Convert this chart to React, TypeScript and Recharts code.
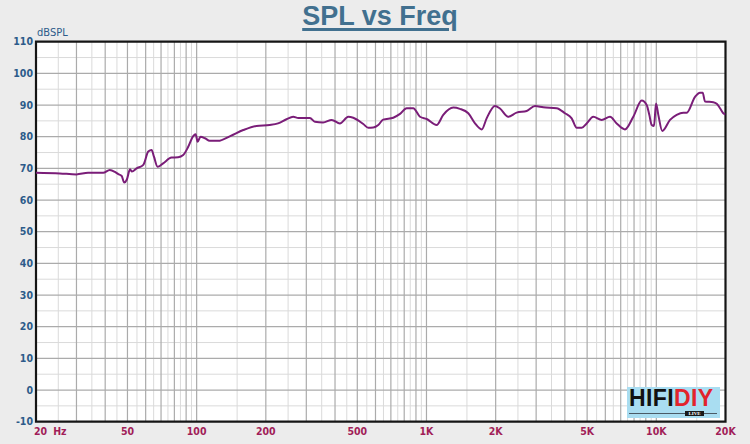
import React from "react";
import { LineChart, Line, XAxis, YAxis, CartesianGrid, ReferenceArea } from "recharts";

const freqs = [20, 25.4, 30, 33.7, 39.2, 41.9, 44.1, 45.6, 47.2, 48.4, 49.7, 51.3, 52.3, 54.8, 58.6, 61.6, 63.7, 65.2, 67.6, 71.5, 77.8, 83.1, 87.4, 91.9, 96.6, 99, 101, 104, 108.7, 114, 124, 140, 159.5, 182, 208, 226, 246, 263, 277, 311, 327, 355, 387, 420, 457, 480, 531, 558, 587, 617, 648, 717, 767, 820, 876, 937, 1002, 1107, 1183, 1308, 1398, 1520, 1626, 1739, 1827, 1986, 2088, 2268, 2468, 2729, 2966, 3222, 3686, 4006, 4283, 4504, 4734, 4977, 5318, 5784, 6287, 6722, 7306, 7941, 8638, 9081, 9321, 9550, 9772, 9970, 10203, 10617, 11470, 12264, 13107, 13558, 14738, 15489, 15916, 16286, 17702, 18316, 18929, 19562, 20000];

const spl = [68.6, 68.4, 68.1, 68.6, 68.6, 69.5, 68.9, 68.2, 67.6, 65.5, 66.5, 69.7, 69.0, 70.0, 71.1, 75.3, 75.8, 73.7, 70.5, 71.6, 73.4, 73.5, 74.2, 76.8, 80.2, 80.8, 78.4, 80.0, 79.5, 78.7, 78.7, 80.2, 82.1, 83.4, 83.7, 84.2, 85.5, 86.3, 85.9, 85.9, 84.7, 84.5, 85.3, 84.2, 86.3, 86.0, 84.0, 82.8, 82.9, 83.7, 85.4, 86.0, 87.2, 89.0, 89.0, 86.3, 85.6, 83.7, 86.9, 89.2, 88.8, 87.4, 84.2, 82.3, 85.8, 89.7, 88.9, 86.3, 87.6, 88.1, 89.7, 89.3, 89.0, 87.4, 85.8, 82.8, 82.8, 84.2, 86.3, 85.3, 86.3, 84.2, 82.3, 86.3, 91.4, 90.0, 86.9, 83.7, 83.4, 90.5, 86.9, 81.8, 85.3, 86.9, 87.6, 87.6, 92.6, 93.9, 93.9, 91.1, 90.9, 90.4, 89.0, 87.4, 87.0];

const xTicks = [20, 50, 100, 200, 500, 1000, 2000, 5000, 10000, 20000];
const xTickLabels = ["20 Hz", "50", "100", "200", "500", "1K", "2K", "5K", "10K", "20K"];
const yTicks = [-10, 0, 10, 20, 30, 40, 50, 60, 70, 80, 90, 100, 110];

const majorGridX = [30, 40, 50, 60, 70, 80, 90, 100, 200, 300, 400, 500, 600, 700, 800, 900, 1000, 2000, 3000, 4000, 5000, 6000, 7000, 8000, 9000, 10000];
const minorGridX = [25, 35, 45, 55, 65, 75, 85, 95, 150, 250, 350, 450, 550, 650, 750, 850, 950, 1500, 2500, 3500, 4500, 5500, 6500, 7500, 8500, 9500, 15000];
const majorGridY = [0, 10, 20, 30, 40, 50, 60, 70, 80, 90, 100];
const minorGridY = [-5, 5, 15, 25, 35, 45, 55, 65, 75, 85, 95, 105];

const data = freqs.map((f, i) => ({ f, spl: spl[i] }));

const NARROW = "'Liberation Sans Narrow', 'DejaVu Sans Condensed', Arial, sans-serif";

const xGen = (list: number[]) => (props: any) => {
  const { xAxis, offset } = props;
  return list.map((f) =>
    xAxis && typeof xAxis.scale === "function"
      ? xAxis.scale(f)
      : offset.left + (offset.width * Math.log10(f / 20)) / 3
  );
};
const yGen = (list: number[]) => (props: any) => {
  const { yAxis, offset } = props;
  return list.map((v) =>
    yAxis && typeof yAxis.scale === "function"
      ? yAxis.scale(v)
      : offset.top + (offset.height * (110 - v)) / 120
  );
};

const XTick = (props: any) => {
  const { x, y, payload, index } = props;
  const idx = xTicks.indexOf(payload.value);
  const label = xTickLabels[idx >= 0 ? idx : index];
  if (idx === 0) {
    return (
      <text x={x - 2} y={y} dy="0.72em" textAnchor="start" fill="#A11D58" fontFamily={NARROW} fontWeight="bold" fontSize={10.5}>
        <tspan>20</tspan>
        <tspan dx={6}>Hz</tspan>
      </text>
    );
  }
  return (
    <text x={x} y={y} dy="0.72em" textAnchor="middle" fill="#A11D58" fontFamily={NARROW} fontWeight="bold" fontSize={10.5}>
      {label}
    </text>
  );
};

const YTick = (props: any) => {
  const { x, y, payload } = props;
  return (
    <text x={x} y={y} dy="0.36em" textAnchor="end" fill="#2D5B8A" fontFamily={NARROW} fontWeight="bold" fontSize={10.5}>
      {payload.value}
    </text>
  );
};

export default function App() {
  return (
    <div style={{ position: "absolute", left: 0, top: 0, width: 750, height: 444, background: "#ECECEC", overflow: "hidden" }}>
      <div
        style={{
          position: "absolute",
          left: 0,
          top: 3,
          width: 760,
          textAlign: "center",
          fontFamily: "'Liberation Sans', Arial, sans-serif",
          fontWeight: "bold",
          fontSize: 27,
          lineHeight: "27px",
          color: "#41708F",
          textDecoration: "underline",
          textUnderlineOffset: "3px",
          textDecorationThickness: "3px",
        }}
      >
        SPL vs Freq
      </div>
      <div
        style={{
          position: "absolute",
          left: 37,
          top: 27,
          fontFamily: NARROW,
          fontSize: 11,
          lineHeight: "11px",
          color: "#2D5B8A",
        }}
      >
        dBSPL
      </div>
      <LineChart width={750} height={444} data={data} margin={{ top: 41.7, right: 24.5, bottom: 0, left: 0 }}>
        <CartesianGrid fill="#FFFFFF" stroke="#DADADA" strokeWidth={1} verticalCoordinatesGenerator={xGen(minorGridX)} horizontalCoordinatesGenerator={yGen(minorGridY)} />
        <CartesianGrid stroke="#ABABAB" strokeWidth={1.2} verticalCoordinatesGenerator={xGen(majorGridX)} horizontalCoordinatesGenerator={yGen(majorGridY)} />
        <XAxis
          dataKey="f"
          type="number"
          scale="log"
          domain={[20, 20000]}
          ticks={xTicks}
          tick={<XTick />}
          tickLine={false}
          axisLine={false}
          tickSize={0}
          tickMargin={6}
          height={22.3}
          allowDataOverflow
          interval={0}
        />
        <YAxis
          type="number"
          domain={[-10, 110]}
          ticks={yTicks}
          tick={<YTick />}
          tickLine={false}
          axisLine={false}
          tickSize={0}
          tickMargin={3}
          width={36}
          allowDataOverflow
          interval={0}
        />
        <Line dataKey="spl" type="monotone" stroke="#7A1D78" strokeWidth={2} dot={false} isAnimationActive={false} />
        <ReferenceArea x1={20} x2={20000} y1={-10} y2={110} fill="none" stroke="#151515" strokeWidth={2.2} ifOverflow="visible" />
      </LineChart>
      <div
        style={{
          position: "absolute",
          left: 627,
          top: 387,
          width: 93,
          height: 31,
          background: "#A9DDF1",
        }}
      >
        <div
          style={{
            position: "absolute",
            left: 2,
            top: 0,
            fontFamily: "'Liberation Sans', Arial, sans-serif",
            fontWeight: "bold",
            fontSize: 23,
            lineHeight: "23px",
            letterSpacing: "0.4px",
            textTransform: "uppercase",
            whiteSpace: "nowrap",
          }}
        >
          <span style={{ color: "#111111" }}>HiFi</span>
          <span style={{ color: "#E2232C" }}>DIY</span>
        </div>
        <div style={{ position: "absolute", left: 2, top: 25.5, width: 88, height: 1, background: "#4A5A66" }} />
        <div
          style={{
            position: "absolute",
            left: 58,
            top: 23.5,
            width: 19,
            height: 5,
            background: "#1A1A1A",
            color: "#FFFFFF",
            fontFamily: "'Liberation Serif', serif",
            fontWeight: "bold",
            fontSize: 5,
            lineHeight: "5px",
            textAlign: "center",
          }}
        >
          LIVE
        </div>
      </div>
    </div>
  );
}
